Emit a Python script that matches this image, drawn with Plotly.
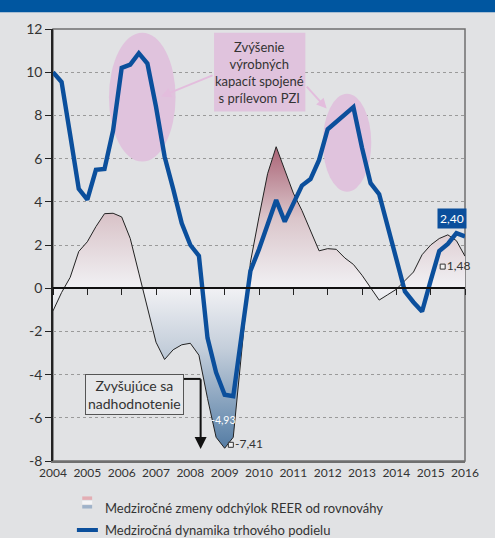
import plotly.graph_objects as go

# quarterly observations, 2004Q1 .. 2016Q1
quarters = [2004 + 0.25 * i for i in range(49)]

market_share = [10.0, 9.55, 7.1, 4.6,
                4.1, 5.48, 5.52, 7.3,
                10.2, 10.35, 10.88, 10.4,
                8.4, 6.1, 4.6, 3.0,
                2.0, 1.5, -2.3, -3.9,
                -4.93, -5.0, -2.1, 0.8,
                1.8, 3.0, 4.08, 3.08,
                3.9, 4.75, 5.05, 5.94,
                7.36, 7.7, 8.05, 8.38,
                6.5, 4.86, 4.35, 2.83,
                1.2, -0.15, -0.65, -1.08,
                0.35, 1.72, 2.05, 2.55,
                2.40]

reer_gap = [-1.05, -0.2, 0.5, 1.7,
            2.15, 2.85, 3.45, 3.47,
            3.3, 2.3, 0.7, -0.9,
            -2.5, -3.3, -2.85, -2.62,
            -2.55, -3.1, -5.1, -6.9,
            -7.41, -6.9, -3.0, 1.2,
            3.3, 5.3, 6.55, 5.5,
            4.4, 3.6, 2.65, 1.73,
            1.83, 1.8, 1.4, 1.1,
            0.6, 0.0, -0.55, -0.3,
            -0.05, 0.35, 0.75, 1.55,
            2.0, 2.3, 2.47, 2.2,
            1.48]

year_ticks = list(range(2004, 2017))
y_ticks = list(range(-8, 13, 2))
y_tick_text = [str(v) for v in y_ticks]

# small value labels with square markers
marker_x = [2009.18, 2015.35]
marker_y = [-7.25, 1.0]
marker_text = ["-7,41", "1,48"]

names = ["Medziročné zmeny odchýlok REER od rovnováhy",
         "Medziročná dynamika trhového podielu"]

blue = "#0b4f9c"
pink = "#e0c3dd"
bg = "#e1e2e4"

fig = go.Figure()

fig.add_trace(go.Scatter(
    x=quarters, y=reer_gap, mode="lines", name=names[0],
    line=dict(color="#222222", width=1),
    fill="tozeroy",
    fillgradient=dict(type="vertical", start=-8, stop=7,
                      colorscale=[[0.0, "#46709a"], [0.1, "#6a8db0"],
                                  [0.35, "#c5cfdb"], [0.533, "#f1f1f4"],
                                  [0.75, "#dac5ca"], [1.0, "#a4566a"]]),
))

fig.add_trace(go.Scatter(
    x=quarters, y=market_share, mode="lines", name=names[1],
    line=dict(color=blue, width=4.4),
))

fig.add_trace(go.Scatter(
    x=marker_x, y=marker_y, mode="markers+text", text=marker_text,
    textposition="middle right", showlegend=False, hoverinfo="skip", cliponaxis=False,
    marker=dict(symbol="square", size=5, color="#f2f2f2",
                line=dict(color="#333333", width=1)),
    textfont=dict(family="Lato", size=12, color="#333333"),
))

# axis holding the ticks that sit on the zero line
fig.add_trace(go.Scatter(x=[], y=[], xaxis="x2", showlegend=False))

shapes = [
    # title band (cut off)
    dict(type="rect", xref="paper", yref="paper", x0=-0.2, x1=1.2,
         y0=1.039, y1=1.1, fillcolor="#0056a0", line_width=0, layer="above"),
    # frame on top/right
    dict(type="rect", xref="x domain", yref="y domain", x0=0, x1=1, y0=0, y1=1,
         line=dict(color="#6f6f6f", width=1.5), layer="below"),
    # highlight ellipses
    dict(type="circle", xref="x", yref="y", x0=2005.63, x1=2007.57, y0=5.86, y1=11.83,
         fillcolor=pink, line_width=0, layer="between"),
    dict(type="circle", xref="x", yref="y", x0=2011.86, x1=2013.27, y0=4.47, y1=9.0,
         fillcolor=pink, line_width=0, layer="between"),
    # note box
    dict(type="rect", xref="x", yref="y", x0=2008.69, x1=2011.35, y0=8.18, y1=11.83,
         fillcolor=pink, line_width=0, layer="between"),
    # elbow from overvaluation box
    dict(type="line", xref="x", yref="y", x0=2007.79, x1=2008.3, y0=-4.2, y1=-4.2,
         line=dict(color="#111111", width=2), layer="above"),
    # legend keys (drawn by hand so the legend does not shrink the plot)
    dict(type="rect", xref="paper", yref="paper", x0=0.071, x1=0.095, y0=-0.082, y1=-0.090,
         fillcolor="#e3aeb4", line_width=0),
    dict(type="rect", xref="paper", yref="paper", x0=0.071, x1=0.095, y0=-0.092, y1=-0.100,
         fillcolor="#f4f4f6", line_width=0),
    dict(type="rect", xref="paper", yref="paper", x0=0.071, x1=0.095, y0=-0.102, y1=-0.110,
         fillcolor="#9fb2c9", line_width=0),
    dict(type="line", xref="paper", yref="paper", x0=0.058, x1=0.109, y0=-0.1597, y1=-0.1597,
         line=dict(color=blue, width=4)),
]

annotations = [
    dict(x=2010.02, y=10.0, xref="x", yref="y", showarrow=False,
         text="Zvýšenie<br>výrobných<br>kapacít spojené<br>s prílevom PZI",
         font=dict(family="Lato", size=13, color="#333333"), align="center"),
    dict(x=2007.15, y=8.88, ax=2008.69, ay=9.88, xref="x", yref="y", axref="x", ayref="y",
         text="", showarrow=True, arrowhead=2, arrowsize=1, arrowwidth=2, arrowcolor="#e3bddd"),
    dict(x=2011.97, y=8.32, ax=2011.35, ay=9.4, xref="x", yref="y", axref="x", ayref="y",
         text="", showarrow=True, arrowhead=2, arrowsize=1, arrowwidth=2, arrowcolor="#e3bddd"),
    dict(x=2006.37, y=-4.92, xref="x", yref="y", showarrow=False,
         text="Zvyšujúce sa<br>nadhodnotenie", align="center",
         font=dict(family="Lato", size=14, color="#333333"),
         bordercolor="#555555", borderwidth=1, borderpad=2, bgcolor="#e6e7e9"),
    dict(x=2008.3, y=-7.45, ax=2008.3, ay=-4.15, xref="x", yref="y", axref="x", ayref="y",
         text="", showarrow=True, arrowhead=2, arrowsize=1.2, arrowwidth=2, arrowcolor="#111111"),
    dict(x=2008.97, y=-6.1, xref="x", yref="y", showarrow=False, text="-4,93",
         font=dict(family="Lato", size=10.5, color="white")),
    dict(x=2015.62, y=3.25, xref="x", yref="y", showarrow=False, text="2,40",
         font=dict(family="Lato", size=12, color="white"), bgcolor=blue, borderpad=2),
]

# legend texts
for name, ypos in zip(names, [-0.1088, -0.1597]):
    annotations.append(dict(x=0.122, y=ypos, xref="paper", yref="paper", showarrow=False,
                            text=name, xanchor="left", yanchor="middle",
                            font=dict(family="Lato", size=13, color="#333333")))

fig.update_layout(
    width=495, height=538,
    margin=dict(l=53, r=30, t=29, b=77),
    paper_bgcolor=bg, plot_bgcolor=bg,
    font=dict(family="Lato", color="#333333"),
    shapes=shapes, annotations=annotations,
    showlegend=False,
    xaxis=dict(range=[2004, 2016], tickvals=year_ticks, ticks="", showgrid=False,
               zeroline=False, showline=True, linecolor="#6f6f6f", linewidth=1.5,
               tickfont=dict(family="Lato", size=12, color="#333333")),
    xaxis2=dict(overlaying="x", matches="x", anchor="free", position=0.4,
                tickvals=year_ticks, ticks="outside", ticklen=6, tickcolor="#222222",
                showticklabels=False, showgrid=False, zeroline=False,
                showline=True, linecolor="#111111", linewidth=1.5),
    yaxis=dict(range=[-8, 12], tickvals=y_ticks, ticktext=y_tick_text,
               ticks="outside", ticklen=6, tickcolor="#222222",
               showline=True, linecolor="#222222", linewidth=1.5,
               showgrid=True, gridcolor="#9a9a9a", griddash="dot", gridwidth=1,
               zeroline=False, tickfont=dict(family="Lato", size=14, color="#333333")),
)

# drop the default page margin so the figure fills the window
fig.write_html("out.html", config={"displayModeBar": False},
               post_script="document.body.style.margin='0';")
